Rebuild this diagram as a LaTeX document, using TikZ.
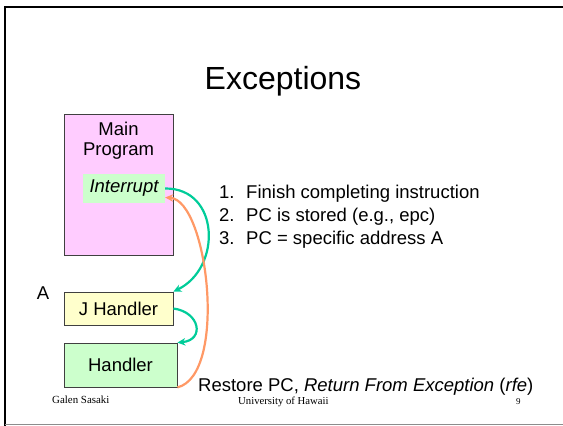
\documentclass[tikz,border=0pt]{standalone}
\usepackage{fontspec}
\setmainfont{Liberation Sans}
\newfontfamily\footfont{Liberation Serif}
\usepackage{tikz}
\usetikzlibrary{arrows,arrows.meta}

\definecolor{progpink}{HTML}{FFCCFF}
\definecolor{jyellow}{HTML}{FFFFCC}
\definecolor{hgreen}{HTML}{CCFFCC}
\definecolor{jumpteal}{HTML}{00CC99}
\definecolor{backorange}{HTML}{FF9966}

\begin{document}
\begin{tikzpicture}[x=1pt,y=-1pt,>={Stealth[length=8pt,width=7.5pt]},
  txt/.style={font=\fontsize{18.5}{20}\selectfont,inner sep=0pt},
  box/.style={draw=black!75,line width=0.8pt,inner sep=0pt,txt},
  jump/.style={->,jumpteal,line width=2.2pt},
  back/.style={->,backorange,line width=2.2pt}]

  \useasboundingbox (0,0) rectangle (563,426);
  % slide frame
  \draw[line width=2pt] (5,426) -- (5,7) -- (563,7);
  \draw[black!45,line width=1pt] (5,424) -- (563,424);

  \node[anchor=base,inner sep=0pt,font=\fontsize{32}{36}\selectfont] (title) at (283,89) {Exceptions};

  \node[box,fill=progpink,minimum width=109pt,minimum height=141pt] (main) at (118.5,184.5) {};
  \node[txt,align=center] (mainlbl) at (118.5,141) {Main\\Program};
  \node[txt,fill=hgreen,minimum width=82pt,minimum height=29pt,font=\fontsize{18.5}{20}\selectfont\itshape] (int) at (124,188.5) {Interrupt};

  \node[inner sep=0pt,anchor=base west,font=\fontsize{18.5}{23.3}\selectfont] (steps) at (219,198)
    {\begin{tabular}[t]{@{}l@{\hspace{11.6pt}}l@{}}
      1. & Finish completing instruction\\
      2. & PC is stored (e.g., epc)\\
      3. & PC = specific address A
    \end{tabular}};

  \node[txt] (addr) at (43,293) {A};
  \node[box,fill=jyellow,minimum width=109pt,minimum height=33pt] (jh) at (118.5,308.5) {J Handler};
  \node[box,fill=hgreen,minimum width=113pt,minimum height=44pt] (h) at (120.5,365) {Handler};

  \node[txt,anchor=base west] (restore) at (198,391.6)
    {Restore PC, \textit{Return From Exception} (\textit{rfe})};

  \node[anchor=base west,inner sep=0pt,font=\footfont\fontsize{10.9}{12}\selectfont] (author) at (52,403) {Galen Sasaki};
  \node[anchor=base west,inner sep=0pt,font=\footfont\fontsize{10.7}{12}\selectfont] (school) at (238,404) {University of Hawaii};
  \node[anchor=base west,inner sep=0pt,font=\footfont\fontsize{9}{10}\selectfont] (page) at (516,404) {9};

  \draw[jump] (int.east) .. controls (220,188) and (222,268) .. (jh.north east);
  \draw[jump] (jh.east) .. controls (200,312) and (205,340) .. (h.north east);
  \draw[back] (h.south east) .. controls (228,375) and (208,200) .. ([yshift=-9pt]int.east);
\end{tikzpicture}
\end{document}
